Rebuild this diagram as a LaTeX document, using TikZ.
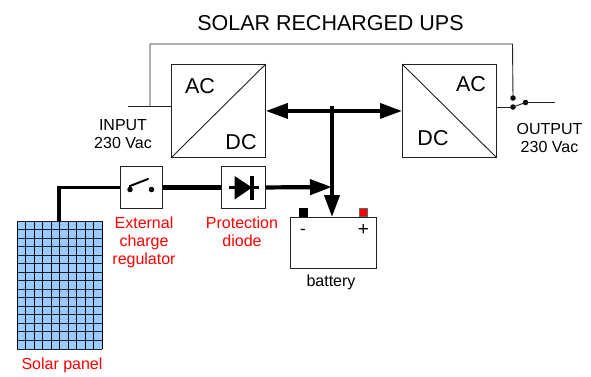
\documentclass[tikz,border=0pt]{standalone}
\usepackage{fontspec}
\setmainfont{Liberation Sans}
\usetikzlibrary{arrows.meta}
\definecolor{panelblue}{HTML}{99CCFF}
\definecolor{thinline}{HTML}{222222}
\tikzset{
  x=1pt,y=-1pt,
  box/.style={draw=thinline,line width=0.9pt,fill=white,inner sep=0pt,anchor=north west},
  thin wire/.style={draw=thinline,line width=0.9pt},
  power/.style={draw=black,line width=3.6pt},
  tip/.style={-{Triangle[length=22pt,width=15pt]}},
  dot/.style={circle,fill=black,inner sep=0pt,minimum size=5.5pt},
  lbl/.style={font=\fontsize{16}{18}\selectfont,align=center,text=black,inner sep=0pt},
  red lbl/.style={font=\fontsize{16}{18}\selectfont,align=center,text=red,inner sep=0pt},
  conv/.style={font=\fontsize{21.5}{24}\selectfont,inner sep=0pt},
}
\begin{document}
\begin{tikzpicture}
\useasboundingbox (0,0) rectangle (591,376);
% coordinates
\coordinate (inS) at (128,106);
\coordinate (inT) at (150,106);
\coordinate (lu) at (150,44);
\coordinate (ru) at (512.5,44);
\coordinate (outE) at (555,102.5);
\coordinate (busT) at (332,106);
\coordinate (pvT) at (59,187.5);
% wires under boxes
\node[dot] (c1) at (513,98) {};
\node[dot] (c2) at (513,107) {};
\node[dot] (c3) at (525.5,102.5) {};
\draw[thin wire] (inS) -- (171,106);
\draw[thin wire] (inT) -- (lu) -- (ru) -- (c1.center);
% converters
\node[box,minimum width=94pt,minimum height=93pt] (acdc) at (171,64) {};
\node[box,minimum width=94pt,minimum height=93pt] (dcac) at (402,64) {};
\draw[thin wire] (acdc.south west) -- (acdc.north east);
\draw[thin wire] (dcac.north west) -- (dcac.south east);
\node[conv] (t1) at (200,86) {AC};
\node[conv] (t2) at (241,142) {DC};
\node[conv] (t3) at (471,84) {AC};
\node[conv] (t4) at (433,138) {DC};
% output switch
\draw[thin wire] (dcac.east |- c2) -- (c2.center);
\draw[thin wire] (c2.center) -- (c3.center) -- (outE);
% bus
\draw[power,{Triangle[length=22pt,width=15pt]}-{Triangle[length=22pt,width=15pt]}] (acdc.east) -- (dcac.west);
% solar panel
\node[box,draw=none,fill=panelblue,minimum width=85pt,minimum height=128pt] (pv) at (17,221) {};
\foreach \i in {0,...,10} \draw[black,line width=1pt] ({17+8.5*\i},221) -- ({17+8.5*\i},349);
\foreach \j in {0,...,15} \draw[black!85!panelblue,line width=1pt] (17,{221+8.533*\j}) -- (102,{221+8.533*\j});
% switch and diode
\node[box,minimum width=42.5pt,minimum height=42pt] (sw) at (119.5,166) {};
\node[box,minimum width=44pt,minimum height=42pt] (di) at (221,166) {};
% battery
\node[box,minimum width=86pt,minimum height=51pt] (bat) at (290,217) {};
\node[draw=black,fill=black,minimum width=8pt,minimum height=8pt,inner sep=0pt] (neg) at (303.5,212.5) {};
\node[draw=black!60,fill=red,minimum width=8pt,minimum height=8pt,inner sep=0pt] (pos) at (363,212.5) {};
% power lines
\draw[power,line width=3.2pt,line join=miter] (pv.north -| pvT) -- (pvT) -- (sw.west |- pvT);
\draw[power,line width=4.2pt] (sw.east) -- (di.west);
\draw[power,line width=4.2pt,tip] (di.east) -- (332,187);
\draw[power,line width=4pt,tip] (busT) -- (bat.north -| busT);
% switch symbol
\node[dot] (s1) at (130,189.5) {};
\node[dot] (s2) at (151.5,189.5) {};
\coordinate (s3) at (148,179);
\draw[black,line width=2pt,line cap=round] (s1.center) -- (130,186) -- (s3);
% diode symbol
\coordinate (d1) at (229,187.5);
\coordinate (d2) at (259,187.5);
\draw[black,line width=3pt] (d1) -- (d2);
\fill[black] (234.5,176) -- (252,187.5) -- (234.5,199.5) -- cycle;
\draw[black,line width=3.5pt] (252,176) -- (252,199.5);
% labels
\node[lbl,font=\fontsize{21.5}{24}\selectfont] (title) at (330.5,23) {SOLAR RECHARGED UPS};
\node[lbl] (input) at (123,134.5) {INPUT\\230 Vac};
\node[lbl] (output) at (549.5,138) {OUTPUT\\230 Vac};
\node[red lbl] (ext) at (144,242.5) {External\\charge\\regulator};
\node[red lbl] (prot) at (242,231.5) {Protection\\diode};
\node[red lbl] (solar) at (62,365) {Solar panel};
\node[lbl] (batt) at (331,282) {battery};
\node[lbl,font=\fontsize{17}{18}\selectfont] (minus) at (303,232) {-};
\node[lbl,font=\fontsize{19}{20}\selectfont] (plus) at (363.5,230) {+};
\end{tikzpicture}
\end{document}
